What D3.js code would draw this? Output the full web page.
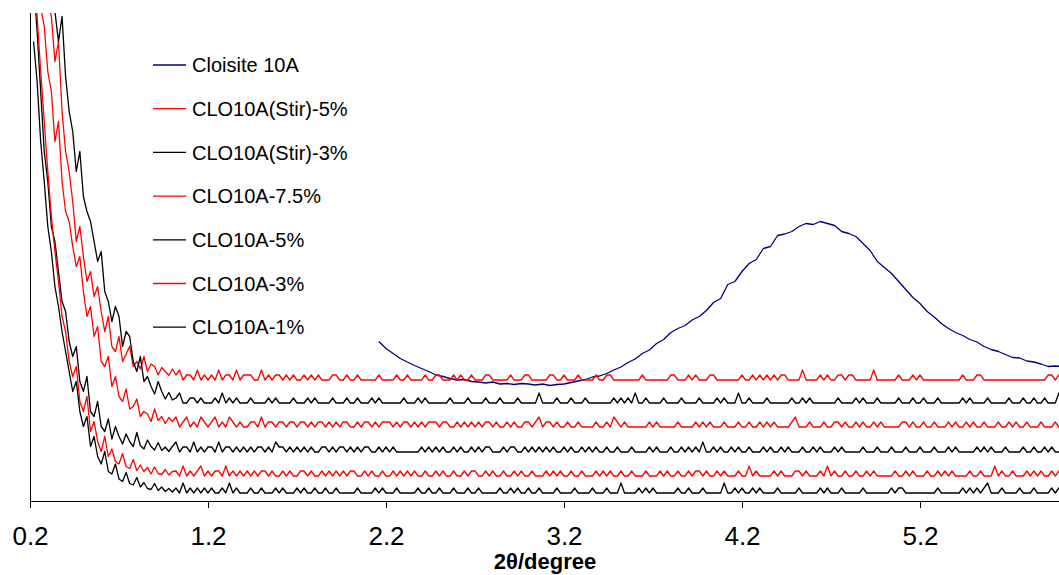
<!DOCTYPE html>
<html>
<head>
<meta charset="utf-8">
<script src="https://d3js.org/d3.v7.min.js"></script>
<style>
  body { margin: 0; background: #fff; }
  svg text { font-family: "Liberation Sans", Arial, sans-serif; fill: #000; }
</style>
</head>
<body>
<svg></svg>
<script>
// legend order, top to bottom
var seriesNames = ["Cloisite 10A", "CLO10A(Stir)-5%", "CLO10A(Stir)-3%",
                   "CLO10A-7.5%", "CLO10A-5%", "CLO10A-3%", "CLO10A-1%"];
var seriesColors = ["#000080", "#ff0000", "#000000", "#ff0000", "#000000", "#ff0000", "#000000"];
var xTicks = [0.2, 1.2, 2.2, 3.2, 4.2, 5.2];

// Cloisite 10A, 2theta from 2.16 in steps of 0.04
var cloisiteStart = 2.16, cloisiteStep = 0.04;
var cloisite = [32.0, 30.6, 29.6, 28.6, 27.9, 27.2, 26.6, 26.0, 25.3, 25.0, 24.6,
  24.3, 24.4, 24.0, 23.9, 23.7, 23.9, 23.5, 23.6, 23.4, 23.6,
  23.5, 23.3, 23.5, 23.2, 23.4, 23.5, 23.8, 24.1, 24.4, 24.9,
  25.1, 25.6, 26.3, 26.9, 27.8, 28.5, 29.6, 30.3, 31.6, 32.4,
  33.8, 34.6, 35.2, 36.3, 37.0, 38.2, 39.8, 40.6, 43.4, 44.0,
  46.0, 47.6, 48.4, 50.6, 51.0, 53.2, 53.5, 54.0, 55.0, 55.6,
  55.4, 56.0, 55.6, 55.2, 54.0, 53.6, 53.0, 51.6, 50.2, 48.0,
  46.8, 45.6, 44.0, 42.4, 40.8, 39.6, 38.0, 36.9, 35.6, 34.6,
  33.8, 33.2, 32.4, 31.9, 31.0, 30.4, 30.0, 29.4, 28.8, 28.7,
  28.1, 27.9, 27.5, 27.0, 27.1, 27.0];

// composites: 2theta from 0.22 in steps of 0.02
// head = offset intensity up to 1.00, tail = counts above the baseline from 1.02
var scanStart = 0.22, scanStep = 0.02;
var baselines = [24.3, 19.7, 14.9, 9.9, 5.1, 1.7];

var headStir5 = [118, 110, 113, 104, 100, 97, 88, 92, 78, 70, 66, 60, 52, 55, 49, 44, 46, 41, 43, 38,
  34, 37, 31, 30, 33, 28, 29.5, 31, 27, 28, 26.5, 29, 26, 27.5, 27, 25.3, 26.8, 26, 25.2, 26.5];
var headStir3 = [120, 115, 112, 108, 106, 101, 98, 92, 97, 85, 78, 74, 66, 70, 61, 58, 56, 52, 48, 50,
  42, 40, 36, 39, 37, 31, 34, 33, 28, 26, 29, 24, 25, 23, 21.5, 24, 22, 20.5, 21.8, 20.3];
var head75 = [110, 104, 99, 95, 86, 82, 72, 76, 64, 58, 56, 51, 47, 49, 42, 37, 39, 33, 35, 28,
  27, 29, 23, 25, 21, 20, 22.5, 18.5, 19, 20.5, 17, 18, 17.5, 16, 18.5, 16.2, 17, 15.6, 16.8, 16];
var head5 = [104, 94, 82, 70, 64, 55, 52, 46, 40, 38, 32, 29, 31, 24, 22, 25, 18, 17, 20, 15,
  14, 16.5, 12.5, 15, 13, 11.5, 13.5, 12, 11, 13.8, 11.2, 10.5, 12.3, 11, 10.3, 11.8, 10.2, 10.9, 10, 11];
var head3 = [105, 97, 86, 76, 66, 57, 50, 44, 37, 34, 28, 25, 27, 20, 18, 21, 14, 16, 12, 10,
  13, 9, 10.5, 8, 7.5, 9.6, 7, 6.6, 8.4, 6.2, 7.3, 6, 6.8, 5.5, 6.9, 5.6, 5.4, 6.4, 5.3, 6];
var head1 = [92, 84, 72, 64, 55, 50, 43, 39, 34, 30, 26, 22, 24, 18, 15, 17, 11, 13, 9, 7.5,
  10, 6, 5.5, 7.5, 4.5, 4, 5.8, 3.6, 3.3, 4.8, 2.9, 3.8, 2.6, 2.4, 3.6, 2.2, 2.9, 2, 2.6, 1.9];

var tailStir5 = "1201102010 1020110201 1100201011 0101001010 1000110010 0100000100 0010010000 1001100010 1001000110 0000100011 " +
                "0000011001 0001000010 0110000000 0100000001 1000101000 1100000001 0010101010 1100002000 0101001101 1000002000 " +
                "0001000101 0000000000 0100011000 0000000000 0000011010";
var tailStir3 = "1200110100 0102010100 0100001010 0001000101 0000100010 0100010100 0000100010 1000000100 0010000100 0100001000 " +
                "0020000100 0100010000 0001010102 0010000100 0010000100 0010100020 0100001000 0001001010 0000001000 0101000100 " +
                "0001000100 1000100000 0101000010 0000100010 0100100020";
var tail75 = "2012010210 1201021010 0110201101 1011011010 1101010110 0101101011 1010110101 0111011001 0101010110 1001010011 " +
             "0120110100 1001000010 0102101000 0001010000 0100001010 1000100010 0100101010 0001200010 0010011010 0101001010 " +
             "0000110100 1001000101 0010100100 0100101001 0001000100";
var tail5 = "2011020101 1020110101 0101101021 1010101010 0110101101 0101100101 0100000001 0101010010 1001010110 0010110010 " +
            "1010101001 0100101010 0100100010 0001010001 0010101020 0101001010 0100010100 1010001001 0100010100 0001000100 " +
            "0100010001 0001000101 0000010101 0001000010 0100101000";
var tail3 = "1020101201 0110201010 1010110100 1010011010 0101010101 1001010010 0101010100 1001010010 0101100101 0010010100 " +
            "1000101010 0100100010 1010010010 0010001010 0100101101 0010100010 0201000010 1000110100 0102010010 0100101000 " +
            "0010010100 0100101010 0001001000 2010010001 0101001010";
var tail1 = "1020101010 1001020100 0100100010 1000101001 0010010000 0100001010 0010000010 0100100010 0010010000 0100101001 " +
            "0010000100 0010000100 0100020000 1010100000 0100100010 0000200101 0010100001 0000010000 0101000100 0001000000 " +
            "0101100000 0000100000 0101010120 0010000100 0100001010";

var heads = [headStir5, headStir3, head75, head5, head3, head1];
var tails = [tailStir5, tailStir3, tail75, tail5, tail3, tail1];

var width = 1059, height = 575;

var svg = d3.select("svg")
  .attr("width", width)
  .attr("height", height);

var x = d3.scaleLinear().domain([0.2, 6.0]).range([30, 1062.4]);
var y = d3.scaleLinear().domain([0, 97.5]).range([501.5, 14]);

svg.append("defs").append("clipPath").attr("id", "plot")
  .append("rect")
  .attr("x", 30).attr("y", 13)
  .attr("width", width - 30).attr("height", 488.5);

// build [2theta, intensity] points
var series = [];
series.push(cloisite.map(function(v, i) { return [cloisiteStart + i * cloisiteStep, v]; }));
heads.forEach(function(head, k) {
  var vals = head.concat(tails[k].replace(/ /g, "").split("").map(function(c) {
    return baselines[k] + (+c);
  }));
  series.push(vals.map(function(v, i) { return [scanStart + i * scanStep, v]; }));
});

var line = d3.line()
  .x(function(d) { return x(d[0]); })
  .y(function(d) { return y(d[1]); });

svg.append("g")
  .attr("clip-path", "url(#plot)")
  .selectAll("path")
  .data(series)
  .enter().append("path")
  .attr("d", line)
  .attr("fill", "none")
  .attr("stroke", function(d, i) { return seriesColors[i]; })
  .attr("stroke-width", 1.3)
  .attr("stroke-linejoin", "round");

// axes
var xAxis = d3.axisBottom(x)
  .tickValues(xTicks)
  .tickFormat(d3.format(".1f"))
  .tickSize(7)
  .tickSizeOuter(0)
  .tickPadding(19);

var gx = svg.append("g")
  .attr("transform", "translate(0,501)")
  .call(xAxis);
gx.selectAll("text").style("font-size", "26px");
gx.selectAll("line, path").attr("stroke", "#000");

svg.append("line")
  .attr("x1", 30.5).attr("x2", 30.5)
  .attr("y1", 13).attr("y2", 501.5)
  .attr("stroke", "#000");

svg.append("text")
  .attr("x", 545)
  .attr("y", 569)
  .attr("text-anchor", "middle")
  .style("font-size", "22px")
  .style("font-weight", "bold")
  .text("2θ/degree");

// legend
var legend = svg.append("g")
  .selectAll("g")
  .data(seriesNames)
  .enter().append("g")
  .attr("transform", function(d, i) { return "translate(153," + (65 + i * 43.7) + ")"; });

legend.append("line")
  .attr("x1", 0).attr("x2", 33)
  .attr("stroke", function(d, i) { return seriesColors[i]; })
  .attr("stroke-width", 1.3);

legend.append("text")
  .attr("x", 39)
  .attr("dy", "0.36em")
  .style("font-size", "20px")
  .text(function(d) { return d; });
</script>
</body>
</html>
